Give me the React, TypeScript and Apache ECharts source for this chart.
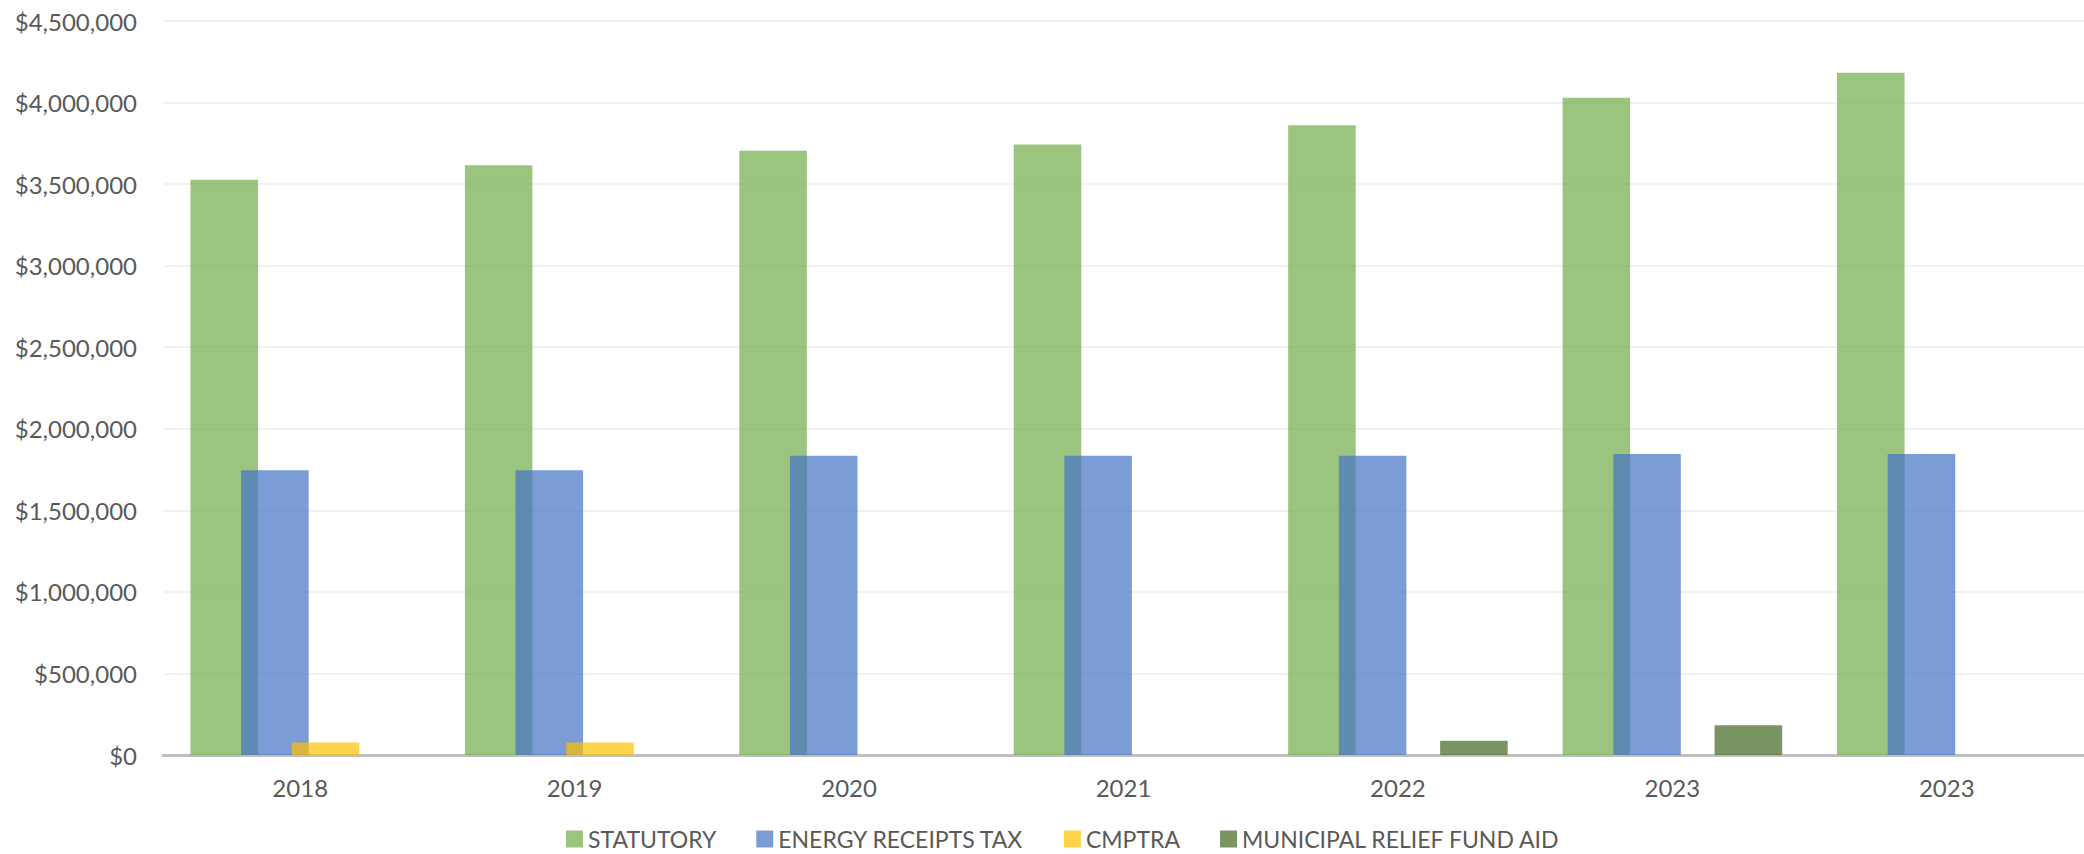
import React, { useEffect, useRef } from "react";
import * as echarts from "echarts";

const categories = ["2018", "2019", "2020", "2021", "2022", "2023", "2023"];
const statutory = [3526000, 3616000, 3704000, 3743000, 3861000, 4030000, 4182000];
const energyReceiptsTax = [1746000, 1746000, 1835000, 1835000, 1835000, 1846000, 1846000];
const cmptra = [77000, 77000, 0, 0, 0, 0, 0];
const municipalReliefFundAid = [0, 0, 0, 0, 88000, 182000, 0];
const seriesNames = ["STATUTORY", "ENERGY RECEIPTS TAX", "CMPTRA", "MUNICIPAL RELIEF FUND AID"];

const FONT = "Lato";
const TEXT = "#595959";

export default function App() {
  const ref = useRef<HTMLDivElement>(null);
  useEffect(() => {
    if (!ref.current) return;
    const chart = echarts.init(ref.current, undefined, { renderer: "svg" });
    const fmt = (v: number) => "$" + v.toLocaleString("en-US");
    const mk = (name: string, data: number[], color: string) => ({
      name,
      type: "bar",
      data,
      barGap: "-25%",
      barCategoryGap: "20%",
      itemStyle: { color, opacity: 0.7 },
      emphasis: { disabled: true },
    });
    chart.setOption({
      animation: false,
      textStyle: { fontFamily: FONT },
      grid: { left: 163, right: 0, top: 21, bottom: 99, containLabel: false },
      legend: {
        top: 824,
        left: 566,
        padding: 0,
        itemWidth: 17,
        itemHeight: 17,
        itemGap: 40,
        icon: "rect",
        textStyle: { fontFamily: FONT, fontSize: 23, color: TEXT, lineHeight: 30 },
        data: seriesNames,
      },
      xAxis: {
        type: "category",
        data: categories,
        axisTick: { show: false },
        axisLine: { lineStyle: { color: "#BFBFBF", width: 3 } },
        axisLabel: { fontFamily: FONT, fontSize: 24, color: TEXT, margin: 20 },
      },
      yAxis: {
        type: "value",
        min: 0,
        max: 4500000,
        interval: 500000,
        axisLine: { show: false },
        axisTick: { show: false },
        splitLine: { lineStyle: { color: "#EDEDED", width: 1.5 } },
        axisLabel: { fontFamily: FONT, fontSize: 24, color: TEXT, margin: 26, formatter: fmt },
      },
      series: [
        mk(seriesNames[0], statutory, "#70AD47"),
        mk(seriesNames[1], energyReceiptsTax, "#4472C4"),
        mk(seriesNames[2], cmptra, "#FFC000"),
        mk(seriesNames[3], municipalReliefFundAid, "#416622"),
      ],
    });
    return () => chart.dispose();
  }, []);
  return (
    <div
      ref={ref}
      style={{ position: "fixed", left: 0, top: 0, width: 2084, height: 854, background: "#fff" }}
    />
  );
}
